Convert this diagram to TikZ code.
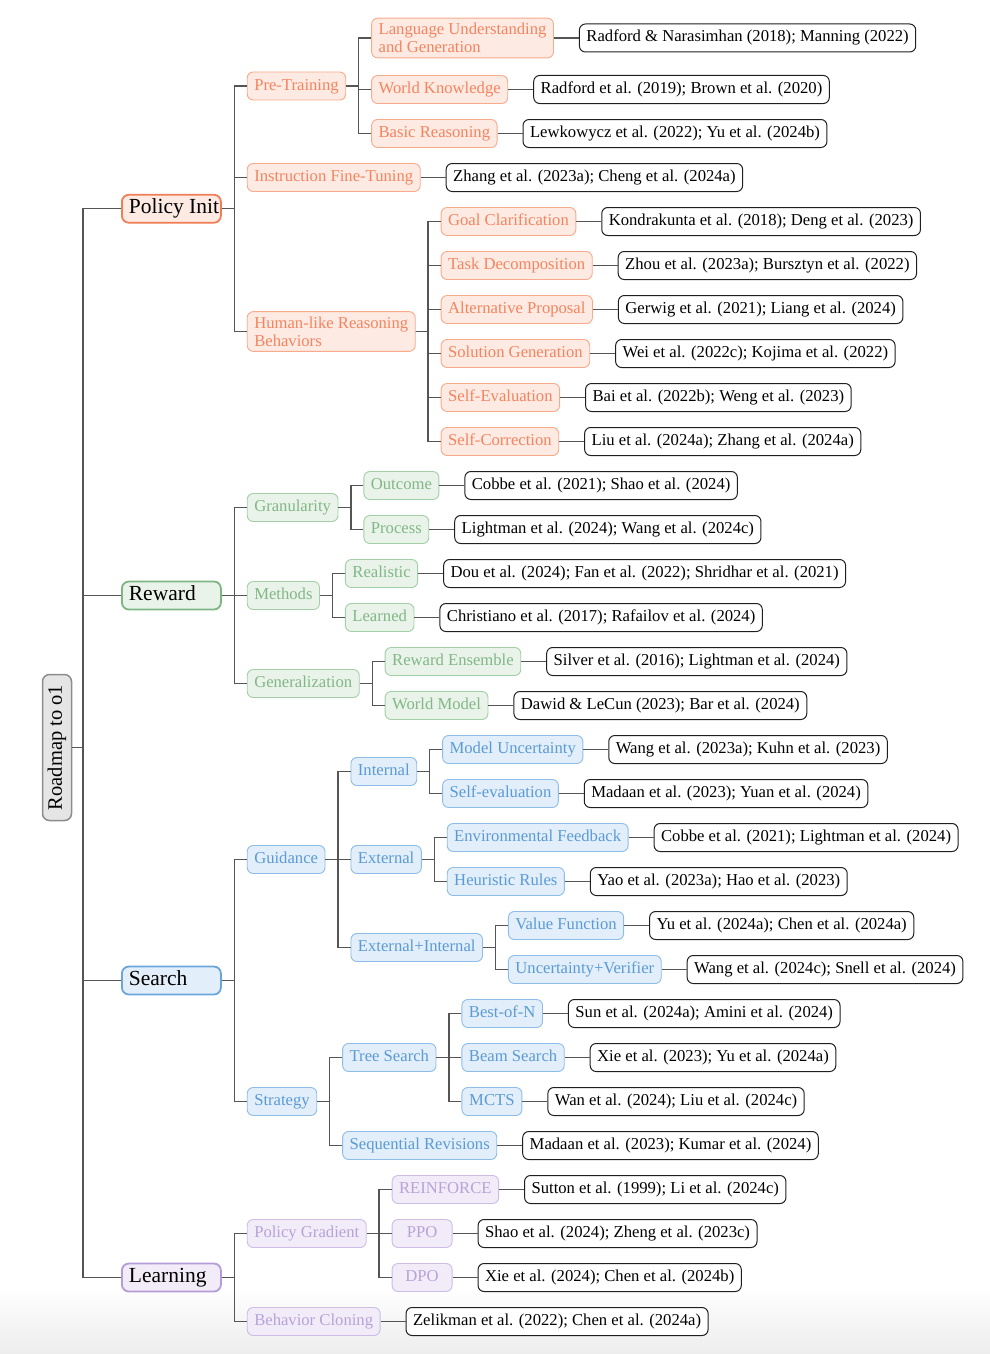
\documentclass[tikz,border=0pt]{standalone}
\usepackage{fontspec}
\setmainfont{Liberation Serif}
\usetikzlibrary{calc}
\definecolor{orTx}{HTML}{F4845F}
\definecolor{orFi}{HTML}{FDEAE2}
\definecolor{orBd}{HTML}{F8AA8C}
\definecolor{orTop}{HTML}{F07D55}
\definecolor{grTx}{HTML}{82B787}
\definecolor{grFi}{HTML}{E9F3E9}
\definecolor{grBd}{HTML}{A3CFA6}
\definecolor{grTop}{HTML}{7DB683}
\definecolor{blTx}{HTML}{5B9BD5}
\definecolor{blFi}{HTML}{E2EEF9}
\definecolor{blBd}{HTML}{8DBDE8}
\definecolor{blTop}{HTML}{6BA6DA}
\definecolor{puTx}{HTML}{B7A3D8}
\definecolor{puFi}{HTML}{F1ECF8}
\definecolor{puBd}{HTML}{CCBCE6}
\definecolor{puTop}{HTML}{B39CD8}
\definecolor{rtFi}{HTML}{E5E5E5}
\definecolor{rtBd}{HTML}{8C8C8C}
\definecolor{lnC}{HTML}{555555}
\newcommand\mkkid[5]{%
  \path (#2.east) ++(25,0) coordinate (tmpx);
  \coordinate (tmpy) at (0,#4);
  \node[#1] (#3) at (tmpx |- tmpy) {#5};
  \draw[cn] (#2.east) -| ([xshift=-12.5pt]#3.west) -- (#3.west);}
\newcommand\mkleaf[3]{%
  \node[leaf] (#2) at ([xshift=25pt]#1.east) {#3};
  \draw[cn] (#1.east) -- (#2.west);}
\begin{document}
\begin{tikzpicture}[x=1pt,y=-1pt,
  cn/.style={draw=lnC,line width=1.4pt},
  base/.style={rounded corners=6pt,font=\fontsize{16.65}{18}\selectfont,inner xsep=7pt,inner ysep=0pt,minimum height=28pt,minimum width=60pt,line width=0.9pt,anchor=west},
  sl/.style={text height=12pt,text depth=4pt},
  ob/.style={base,sl,draw=orBd,fill=orFi,text=orTx},
  obb/.style={base,draw=orBd,fill=orFi,text=orTx,align=left,inner ysep=5pt},
  gb/.style={base,sl,draw=grBd,fill=grFi,text=grTx},
  bb/.style={base,sl,draw=blBd,fill=blFi,text=blTx},
  pb/.style={base,sl,draw=puBd,fill=puFi,text=puTx},
  leaf/.style={base,sl,draw=black!88,fill=white,text=black,line width=1pt},
  topbox/.style={rounded corners=7pt,font=\fontsize{21.5}{24}\selectfont,inner xsep=7pt,inner ysep=0pt,minimum height=28pt,text height=14pt,text depth=4.5pt,line width=1.8pt,anchor=west,text=black},
  rootst/.style={rotate=90,rounded corners=7pt,draw=rtBd,fill=rtFi,line width=1.5pt,font=\fontsize{20.5}{24}\selectfont,minimum width=146pt,minimum height=29pt,inner sep=0pt,text height=14pt,text depth=4.5pt}
]
\useasboundingbox (0,-1.5) rectangle (990,1352.5);
\shade[top color=white,bottom color=black!7] (0,1285) rectangle (990,1352.5);

\node[rootst] (root) at (57,746) {Roadmap to o1};

\node[topbox,draw=orTop,fill=orFi] (pi) at (121,207.25) {\makebox[85pt][l]{Policy Init}};
\node[topbox,draw=grTop,fill=grFi] (rw) at (121,594) {\makebox[85pt][l]{Reward}};
\node[topbox,draw=blTop,fill=blFi] (se) at (121,979) {\makebox[85pt][l]{Search}};
\node[topbox,draw=puTop,fill=puFi] (le) at (121,1276) {\makebox[85pt][l]{Learning}};
\foreach \n in {pi,rw,se,le}{\draw[cn] (root.south) -| ([xshift=-38pt]\n.west) -- (\n.west);}

% Policy Init
\mkkid{ob}{pi}{pt}{84.5}{Pre-Training}
\mkkid{obb}{pt}{lu}{36.5}{Language Understanding\\and Generation}
\mkleaf{lu}{l1}{Radford \& Narasimhan (2018); Manning (2022)}
\mkkid{ob}{pt}{wk}{88}{World Knowledge}
\mkleaf{wk}{l2}{Radford et al. (2019); Brown et al. (2020)}
\mkkid{ob}{pt}{br}{132}{Basic Reasoning}
\mkleaf{br}{l3}{Lewkowycz et al. (2022); Yu et al. (2024b)}
\mkkid{ob}{pi}{ift}{176}{Instruction Fine-Tuning}
\mkleaf{ift}{l4}{Zhang et al. (2023a); Cheng et al. (2024a)}
\mkkid{obb}{pi}{hl}{330}{Human-like Reasoning\\Behaviors}
\mkkid{ob}{hl}{gc}{220}{Goal Clarification}
\mkleaf{gc}{l5}{Kondrakunta et al. (2018); Deng et al. (2023)}
\mkkid{ob}{hl}{td}{264}{Task Decomposition}
\mkleaf{td}{l6}{Zhou et al. (2023a); Bursztyn et al. (2022)}
\mkkid{ob}{hl}{ap}{308}{Alternative Proposal}
\mkleaf{ap}{l7}{Gerwig et al. (2021); Liang et al. (2024)}
\mkkid{ob}{hl}{sg}{352}{Solution Generation}
\mkleaf{sg}{l8}{Wei et al. (2022c); Kojima et al. (2022)}
\mkkid{ob}{hl}{sev}{396}{Self-Evaluation}
\mkleaf{sev}{l9}{Bai et al. (2022b); Weng et al. (2023)}
\mkkid{ob}{hl}{sc}{440}{Self-Correction}
\mkleaf{sc}{l10}{Liu et al. (2024a); Zhang et al. (2024a)}

% Reward
\mkkid{gb}{rw}{gr}{506}{Granularity}
\mkkid{gb}{gr}{oc}{484}{Outcome}
\mkleaf{oc}{l11}{Cobbe et al. (2021); Shao et al. (2024)}
\mkkid{gb}{gr}{pr}{528}{Process}
\mkleaf{pr}{l12}{Lightman et al. (2024); Wang et al. (2024c)}
\mkkid{gb}{rw}{me}{594}{Methods}
\mkkid{gb}{me}{re}{572}{Realistic}
\mkleaf{re}{l13}{Dou et al. (2024); Fan et al. (2022); Shridhar et al. (2021)}
\mkkid{gb}{me}{lr}{616}{Learned}
\mkleaf{lr}{l14}{Christiano et al. (2017); Rafailov et al. (2024)}
\mkkid{gb}{rw}{ge}{682}{Generalization}
\mkkid{gb}{ge}{ren}{660}{Reward Ensemble}
\mkleaf{ren}{l15}{Silver et al. (2016); Lightman et al. (2024)}
\mkkid{gb}{ge}{wm}{704}{World Model}
\mkleaf{wm}{l16}{Dawid \& LeCun (2023); Bar et al. (2024)}

% Search
\mkkid{bb}{se}{gu}{858}{Guidance}
\mkkid{bb}{gu}{in}{770}{Internal}
\mkkid{bb}{in}{mu}{748}{Model Uncertainty}
\mkleaf{mu}{l17}{Wang et al. (2023a); Kuhn et al. (2023)}
\mkkid{bb}{in}{sfe}{792}{Self-evaluation}
\mkleaf{sfe}{l18}{Madaan et al. (2023); Yuan et al. (2024)}
\mkkid{bb}{gu}{ex}{858}{External}
\mkkid{bb}{ex}{ef}{836}{Environmental Feedback}
\mkleaf{ef}{l19}{Cobbe et al. (2021); Lightman et al. (2024)}
\mkkid{bb}{ex}{hr}{880}{Heuristic Rules}
\mkleaf{hr}{l20}{Yao et al. (2023a); Hao et al. (2023)}
\mkkid{bb}{gu}{ei}{946}{External+Internal}
\mkkid{bb}{ei}{vf}{924}{Value Function}
\mkleaf{vf}{l21}{Yu et al. (2024a); Chen et al. (2024a)}
\mkkid{bb}{ei}{uv}{968}{Uncertainty+Verifier}
\mkleaf{uv}{l22}{Wang et al. (2024c); Snell et al. (2024)}
\mkkid{bb}{se}{st}{1100}{Strategy}
\mkkid{bb}{st}{ts}{1056}{Tree Search}
\mkkid{bb}{ts}{bn}{1012}{Best-of-N}
\mkleaf{bn}{l23}{Sun et al. (2024a); Amini et al. (2024)}
\mkkid{bb}{ts}{bs}{1056}{Beam Search}
\mkleaf{bs}{l24}{Xie et al. (2023); Yu et al. (2024a)}
\mkkid{bb}{ts}{mc}{1100}{MCTS}
\mkleaf{mc}{l25}{Wan et al. (2024); Liu et al. (2024c)}
\mkkid{bb}{st}{sr}{1144}{Sequential Revisions}
\mkleaf{sr}{l26}{Madaan et al. (2023); Kumar et al. (2024)}

% Learning
\mkkid{pb}{le}{pg}{1232}{Policy Gradient}
\mkkid{pb}{pg}{rf}{1188}{REINFORCE}
\mkleaf{rf}{l27}{Sutton et al. (1999); Li et al. (2024c)}
\mkkid{pb}{pg}{ppo}{1232}{PPO}
\mkleaf{ppo}{l28}{Shao et al. (2024); Zheng et al. (2023c)}
\mkkid{pb}{pg}{dpo}{1276}{DPO}
\mkleaf{dpo}{l29}{Xie et al. (2024); Chen et al. (2024b)}
\mkkid{pb}{le}{bc}{1320}{Behavior Cloning}
\mkleaf{bc}{l30}{Zelikman et al. (2022); Chen et al. (2024a)}
\end{tikzpicture}
\end{document}
